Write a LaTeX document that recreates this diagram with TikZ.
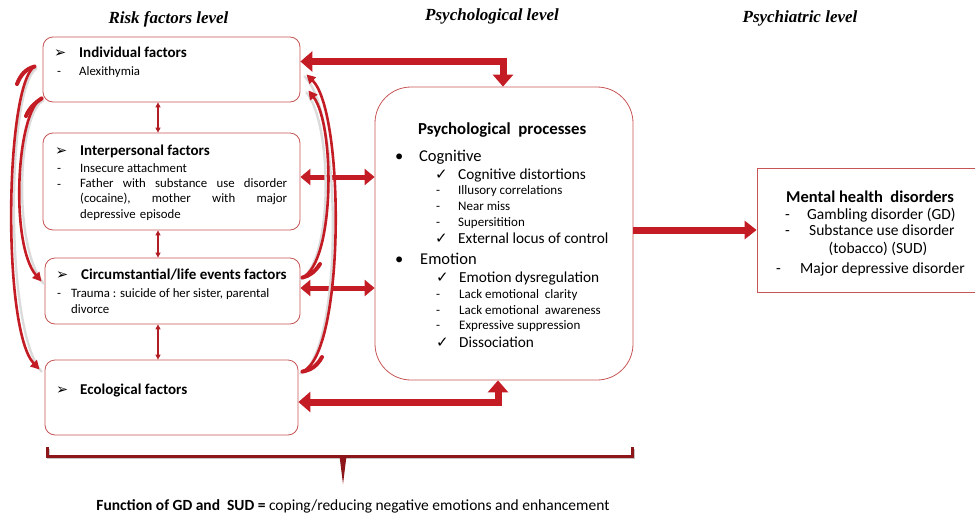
\documentclass[tikz,border=0pt]{standalone}
\usepackage{fontspec}
\setmainfont{Carlito}
\newfontfamily\symfont{DejaVu Sans}
\newfontfamily\headfont{Liberation Serif}
\usetikzlibrary{arrows.meta,calc}

\definecolor{boxred}{RGB}{200,85,85}
\definecolor{arrowred}{RGB}{196,28,36}
\definecolor{thinred}{RGB}{178,30,36}
\definecolor{bracered}{RGB}{140,22,26}

\tikzset{
  factorbox/.style={draw=boxred, line width=0.8pt, rounded corners=10pt, fill=white},
  procbox/.style={draw=boxred, line width=0.8pt, rounded corners=36pt, fill=white},
  outbox/.style={draw=boxred, line width=0.8pt, fill=white},
  txt/.style={anchor=base west, inner sep=0pt, text=black},
  ctxt/.style={anchor=base, inner sep=0pt, text=black},
  heading/.style={anchor=base, inner sep=0pt, font=\headfont\itshape\bfseries\fontsize{17}{19}\selectfont},
  fhead/.style={txt, font=\bfseries\fontsize{15}{17}\selectfont},
  fbody/.style={txt, font=\fontsize{12.8}{15}\selectfont},
  pointer/.style={txt, font=\symfont\fontsize{14.5}{16}\selectfont},
  ptitle/.style={txt, font=\bfseries\fontsize{16.8}{19}\selectfont},
  pmain/.style={txt, font=\fontsize{16.5}{19}\selectfont},
  pitem/.style={txt, font=\fontsize{15.3}{18}\selectfont},
  pcheck/.style={txt, font=\symfont\fontsize{15}{17}\selectfont},
  psmall/.style={txt, font=\fontsize{13}{15}\selectfont},
  mitem/.style={txt, font=\fontsize{15.5}{18}\selectfont},
  bigarrow/.style={draw=arrowred, line width=7pt, {Triangle[width=20pt,length=12pt]}-{Triangle[width=20pt,length=12pt]}},
  midarrow/.style={draw=arrowred, line width=5pt, {Triangle[width=16pt,length=10pt]}-{Triangle[width=16pt,length=10pt]}},
  outarrow/.style={draw=arrowred, line width=7pt, -{Triangle[width=18pt,length=12pt]}},
  linkarrow/.style={draw=thinred, line width=1.2pt, {Triangle[width=5pt,length=5pt]}-{Triangle[width=5pt,length=5pt]}},
  curvearrow/.style={draw=arrowred, line width=2.6pt, line cap=round, -{Triangle[width=9pt,length=9pt]}},
  curvebase/.style={draw=arrowred, line width=4pt, line cap=round},
  curveshadow/.style={draw=black!14, line width=2.4pt, line cap=round},
}

\begin{document}
\begin{tikzpicture}[x=1pt,y=-1pt]
\useasboundingbox (0,0) rectangle (975,517);

% level headings
\node[heading] (h1) at (168.5,23) {Risk factors level};
\node[heading] (h2) at (492,20) {Psychological level};
\node[heading] (h3) at (800,22) {Psychiatric level};

% risk factor boxes
\node[factorbox, minimum width=257pt, minimum height=65pt] (ind) at (171.5,69.5) {};
\node[factorbox, minimum width=257pt, minimum height=97pt] (inter) at (171.5,181.5) {};
\node[factorbox, minimum width=255pt, minimum height=66pt] (circ) at (172.5,291) {};
\node[factorbox, minimum width=253pt, minimum height=75pt] (eco) at (171.5,397.5) {};

% psychological processes and outcome boxes
\node[procbox, minimum width=258pt, minimum height=293pt] (psy) at (504,233.5) {};
\node[outbox, minimum width=221pt, minimum height=124pt] (mhd) at (867.5,230) {};

% individual factors
\node[pointer] (b1) at (54,57) {➢};
\node[fhead] (t1) at (79,57) {Individual factors};
\node[fbody] (d1) at (57,75) {-};
\node[fbody] (t1a) at (79,75) {Alexithymia};

% interpersonal factors
\node[pointer] (b2) at (55,155) {➢};
\node[fhead] (t2) at (80,155) {Interpersonal factors};
\node[fbody] (d2a) at (57,172) {-};
\node[fbody] (t2a) at (80,172) {Insecure attachment};
\node[fbody] (d2b) at (57,188) {-};
\node[anchor=north west, inner sep=0pt, text width=207pt, align=left,
      font=\fontsize{12.8}{15.7}\selectfont] (t2b) at (80,178)
  {Father\hfill with\hfill substance\hfill use\hfill disorder\\
   (cocaine),\hfill mother\hfill with\hfill major\\
   depressive episode};

% circumstantial factors
\node[pointer] (b3) at (56,279) {➢};
\node[fhead] (t3) at (81,279) {Circumstantial/life events factors};
\node[fbody] (d3) at (57,297) {-};
\node[fbody] (t3a) at (71,297) {Trauma : suicide of her sister, parental};
\node[fbody] (t3b) at (71,313) {divorce};

% ecological factors
\node[pointer] (b4) at (56,394) {➢};
\node[fhead] (t4) at (80,394) {Ecological factors};

% psychological processes
\node[ptitle] (pt) at (418,134) {Psychological\ \ processes};
\node[pmain] (pb1) at (395,161) {•};
\node[pmain] (pc) at (419,161) {Cognitive};
\node[pcheck] (pk1) at (435,179) {✓};
\node[pitem] (pc1) at (458,179) {Cognitive distortions};
\node[psmall] (pd1) at (436,194.5) {-};
\node[psmall] (pc1a) at (458,194.5) {Illusory correlations};
\node[psmall] (pd2) at (436,210.5) {-};
\node[psmall] (pc1b) at (458,210.5) {Near miss};
\node[psmall] (pd3) at (436,226.5) {-};
\node[psmall] (pc1c) at (458,226.5) {Supersitition};
\node[pcheck] (pk2) at (435,243) {✓};
\node[pitem] (pc2) at (458,243) {External locus of control};
\node[pmain] (pb2) at (395,264) {•};
\node[pmain] (pe) at (420,264) {Emotion};
\node[pcheck] (pk3) at (436,282) {✓};
\node[pitem] (pe1) at (459,282) {Emotion dysregulation};
\node[psmall] (pd4) at (436,298.5) {-};
\node[psmall] (pe1a) at (459,298.5) {Lack emotional\ \ clarity};
\node[psmall] (pd5) at (436,314.5) {-};
\node[psmall] (pe1b) at (459,314.5) {Lack emotional\ \ awareness};
\node[psmall] (pd6) at (436,329.5) {-};
\node[psmall] (pe1c) at (459,329.5) {Expressive suppression};
\node[pcheck] (pk4) at (436,347) {✓};
\node[pitem] (pe2) at (459,347) {Dissociation};

% mental health disorders
\node[ctxt, font=\bfseries\fontsize{16.5}{19}\selectfont] (mt) at (870,202) {Mental health\ \ disorders};
\node[mitem] (md1) at (785,219) {-};
\node[mitem] (m1) at (807,219) {Gambling disorder (GD)};
\node[mitem] (md2) at (785,235) {-};
\node[mitem] (m2) at (809,235) {Substance use disorder};
\node[ctxt, font=\fontsize{15.5}{18}\selectfont] (m3) at (878,253) {(tobacco) (SUD)};
\node[mitem] (md4) at (776,273) {-};
\node[mitem] (m4) at (800,273) {Major depressive disorder};

% links between risk factor boxes
\coordinate (vx) at (158,0);
\draw[linkarrow] (ind.south -| vx) -- (inter.north -| vx);
\draw[linkarrow] (inter.south -| vx) -- (circ.north -| vx);
\draw[linkarrow] (circ.south -| vx) -- (eco.north -| vx);

% thick connectors to the psychological processes
\draw[bigarrow] ([xshift=-1pt]psy.north) |- ([yshift=8pt]ind.east);
\draw[midarrow] ([yshift=4.5pt]inter.east) -- ([yshift=4.5pt]inter.east -| psy.west);
\draw[midarrow] ([yshift=3pt]circ.east) -- ([yshift=3pt]circ.east -| psy.west);
\draw[bigarrow] ([xshift=-6pt]psy.south) |- ([yshift=-4.5pt]eco.east);
\draw[outarrow] (psy.east |- mhd.west) -- (mhd.west);

% curved arrows on the left side (thicker at their tails)
\coordinate (l1s) at ([xshift=-8pt,yshift=3pt]ind.west);
\coordinate (l1e) at ([xshift=-5pt,yshift=-10pt]eco.north west);
\coordinate (l2s) at ([xshift=-1pt,yshift=4pt]ind.south west);
\coordinate (l2e) at ([xshift=-3pt,yshift=-24pt]circ.north west);
\draw[curveshadow] ([shift={(2pt,-2pt)}]l1s) .. controls (7,85) and (4,330) .. ([shift={(2pt,-2pt)}]l1e);
\draw[curveshadow] ([shift={(2pt,-2pt)}]l2s) .. controls (18,112) and (12,245) .. ([shift={(2pt,-2pt)}]l2e);
\draw[curvearrow] (l1s) .. controls (5,85) and (2,330) .. (l1e);
\draw[curvearrow] (l2s) .. controls (16,112) and (10,245) .. (l2e);
\draw[curvebase] (l1s) .. controls (26,69) and (21,74) .. (17,84);
\draw[curvebase] (l2s) .. controls (35,103) and (30,107) .. (26,116);

% curved arrows on the right side (thicker at their tails)
\coordinate (r1s) at ([xshift=4pt,yshift=-12pt]eco.north east);
\coordinate (r1e) at ([xshift=6pt,yshift=28pt]ind.south east);
\coordinate (r2s) at ([xshift=2pt,yshift=-20pt]circ.north east);
\coordinate (r2e) at ([xshift=8pt,yshift=12pt]ind.south east);
\draw[curveshadow] ([shift={(-2pt,-2pt)}]r1s) .. controls (343,355) and (343,112) .. ([shift={(-2pt,-2pt)}]r1e);
\draw[curveshadow] ([shift={(-2pt,-2pt)}]r2s) .. controls (333,262) and (333,125) .. ([shift={(-2pt,-2pt)}]r2e);
\draw[curvearrow] (r1s) .. controls (345,355) and (345,112) .. (r1e);
\draw[curvearrow] (r2s) .. controls (335,262) and (335,125) .. (r2e);
\draw[curvebase] (r1s) .. controls (311,370) and (317,366) .. (322,357);
\draw[curvebase] (r2s) .. controls (309,276) and (315,272) .. (320,264);

% bracket gathering the two levels
\coordinate (bl) at (47,447);
\coordinate (br) at (632,447);
\coordinate (bm) at (343,456);
\draw[black!22, line width=3pt] ([shift={(1.5pt,-1.5pt)}]bl) -- ++(0,9) -- ([shift={(1.5pt,-10.5pt)}]br) -- ++(0,-9);
\draw[bracered, line width=3pt] (bl) -- ++(0,9) -- ([yshift=-9pt]br) -- (br);
\fill[bracered] ([xshift=-3.5pt]bm) -- ([xshift=3.5pt]bm) -- ([yshift=-28pt]bm) -- cycle;

% function statement
\node[ctxt, font=\fontsize{15.5}{18}\selectfont] (fn) at (353,510)
  {\textbf{Function of GD and\ \ SUD =} coping/reducing negative emotions and enhancement};
\end{tikzpicture}
\end{document}
